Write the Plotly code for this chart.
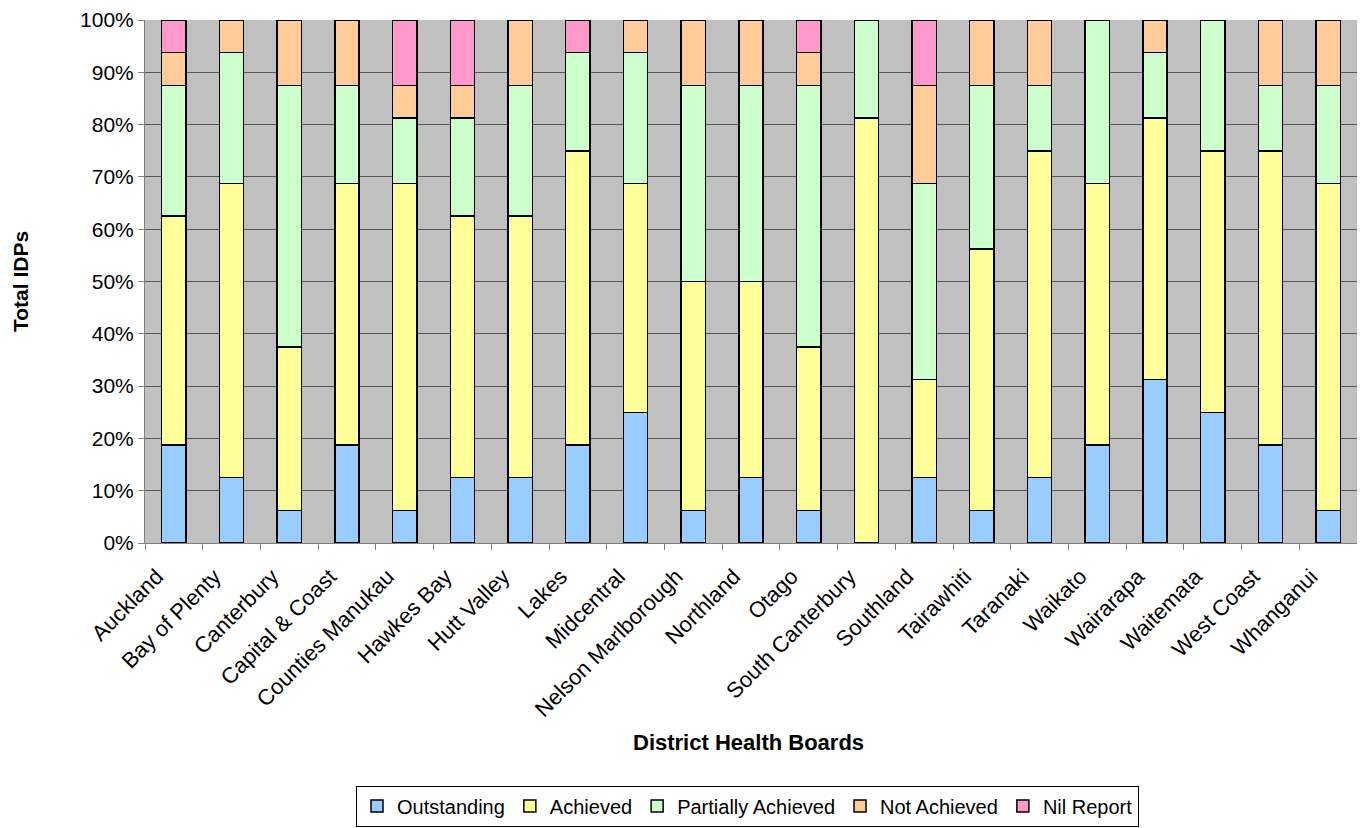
import plotly.graph_objects as go

boards = ["Auckland", "Bay of Plenty", "Canterbury", "Capital & Coast", "Counties Manukau",
          "Hawkes Bay", "Hutt Valley", "Lakes", "Midcentral", "Nelson Marlborough",
          "Northland", "Otago", "South Canterbury", "Southland", "Tairawhiti",
          "Taranaki", "Waikato", "Wairarapa", "Waitemata", "West Coast", "Whanganui"]

outstanding = [18.75, 12.5, 6.25, 18.75, 6.25, 12.5, 12.5, 18.75, 25, 6.25, 12.5, 6.25, 0, 12.5, 6.25, 12.5, 18.75, 31.25, 25, 18.75, 6.25]
achieved = [43.75, 56.25, 31.25, 50, 62.5, 50, 50, 56.25, 43.75, 43.75, 37.5, 31.25, 81.25, 18.75, 50, 62.5, 50, 50, 50, 56.25, 62.5]
partially = [25, 25, 50, 18.75, 12.5, 18.75, 25, 18.75, 25, 37.5, 37.5, 50, 18.75, 37.5, 31.25, 12.5, 31.25, 12.5, 25, 12.5, 18.75]
not_achieved = [6.25, 6.25, 12.5, 12.5, 6.25, 6.25, 12.5, 0, 6.25, 12.5, 12.5, 6.25, 0, 18.75, 12.5, 12.5, 0, 6.25, 0, 12.5, 12.5]
nil_report = [6.25, 0, 0, 0, 12.5, 12.5, 0, 6.25, 0, 0, 0, 6.25, 0, 12.5, 0, 0, 0, 0, 0, 0, 0]

series = [("Outstanding", outstanding, "#99CCFF"),
          ("Achieved", achieved, "#FFFF99"),
          ("Partially Achieved", partially, "#CCFFCC"),
          ("Not Achieved", not_achieved, "#FFCC99"),
          ("Nil Report", nil_report, "#FF99CC")]

W, H = 1357, 820          # page body has an 8px default margin
L, T, R, B = 137, 12, 8, 285
PW, PH = W - L - R, H - T - B

fig = go.Figure()
for name, vals, col in series:
    fig.add_trace(go.Bar(x=boards, y=vals, name=name, width=0.42,
                         marker=dict(color=col, line=dict(color="black", width=1.5))))

fig.update_layout(
    barmode="stack",
    width=W, height=H,
    margin=dict(l=L, r=R, t=T, b=B),
    plot_bgcolor="#C0C0C0",
    paper_bgcolor="white",
    font=dict(family="Liberation Sans, Arial, sans-serif", size=20, color="black"),
    showlegend=True,
    legend=dict(orientation="h", x=739.5 / W, xanchor="center", xref="container",
                y=1 - 798 / H, yanchor="middle", yref="container",
                bordercolor="black", borderwidth=1, bgcolor="white",
                font=dict(size=20), itemwidth=30, traceorder="normal",
                tracegroupgap=0),
    xaxis=dict(type="category", tickangle=-45, tickson="boundaries", ticks="outside",
               ticklen=6, tickcolor="#808080", showline=True, linecolor="#808080",
               linewidth=1, showgrid=False, tickfont=dict(size=22), automargin=False,
               ticklabelshift=-17, ticklabelstandoff=11),
    yaxis=dict(range=[0, 100], tick0=0, dtick=10, ticksuffix="%", ticks="outside",
               ticklen=6, tickcolor="#808080", showline=True, linecolor="#808080",
               showgrid=True, gridcolor="#555555", gridwidth=1, zeroline=False,
               tickfont=dict(size=21), automargin=False),
    annotations=[
        dict(text="<b>District Health Boards</b>", xref="paper", yref="paper",
             x=(740 - L) / PW, y=(T + PH - 734) / PH, xanchor="center", yanchor="middle",
             showarrow=False, font=dict(size=22)),
        dict(text="<b>Total IDPs</b>", xref="paper", yref="paper",
             x=(12 - L) / PW, y=(T + PH - 274) / PH, xanchor="center", yanchor="middle",
             textangle=-90, showarrow=False, font=dict(size=21)),
    ],
)

fig.write_html("out.html")
